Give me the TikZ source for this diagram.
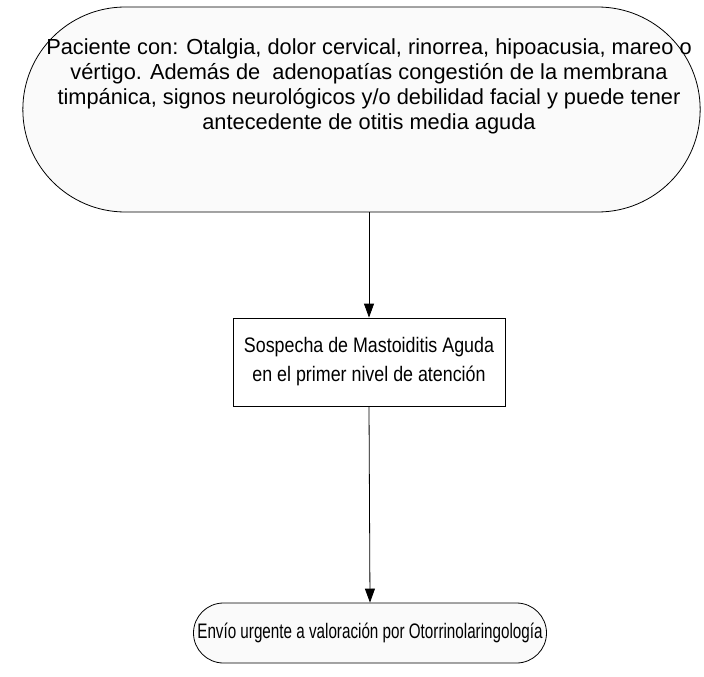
\documentclass[tikz,border=0pt]{standalone}
\usepackage{fontspec}
\setmainfont{Liberation Sans}
\newfontfamily\estrecha[FakeStretch=0.85]{Liberation Sans}
\newfontfamily\estrechafin[FakeStretch=0.725]{Liberation Sans}
\usetikzlibrary{shapes.misc,arrows.meta,positioning}

\tikzset{
	terminal/.style={rounded rectangle, draw=black, fill=gray!4, line width=0.8pt},
	caja/.style={rectangle, draw=black, fill=white, line width=0.8pt},
	texto/.style={align=center, font=\fontsize{21.8}{25}\selectfont},
	textocaja/.style={align=center, font=\estrecha\fontsize{21}{29}\selectfont},
	textofin/.style={align=center, inner xsep=1pt, font=\estrechafin\fontsize{21}{25}\selectfont},
	flecha/.style={line width=0.8pt, -{Triangle[width=10pt,length=14pt]}}
}

\begin{document}
\begin{tikzpicture}[x=1pt,y=-1pt]
		\useasboundingbox (0,0) rectangle (704,677);
		\node[terminal, minimum width=684pt, minimum height=205pt] (paciente) at (361.5,109.5) {};
		\node[texto] (pactexto) at (369,86) {Paciente con: Otalgia, dolor cervical, rinorrea, hipoacusia, mareo o\\
			vértigo. Además de~ adenopatías congestión de la membrana\\
			timpánica, signos neurológicos y/o debilidad facial y puede tener\\
			antecedente de otitis media aguda};
		\node[caja, textocaja, minimum width=272pt, minimum height=88pt] (sospecha) at (369,362) {Sospecha de Mastoiditis Aguda\\ en el primer nivel de atención};
		\node[terminal, textofin, minimum width=355pt, minimum height=60pt] (envio) at (370,633) {Envío urgente a valoración por Otorrinolaringología};
		\draw[flecha] (sospecha.north |- paciente.south) -- (sospecha.north);
		\draw[flecha] (sospecha.south) -- (envio.north);
\end{tikzpicture}
\end{document}
